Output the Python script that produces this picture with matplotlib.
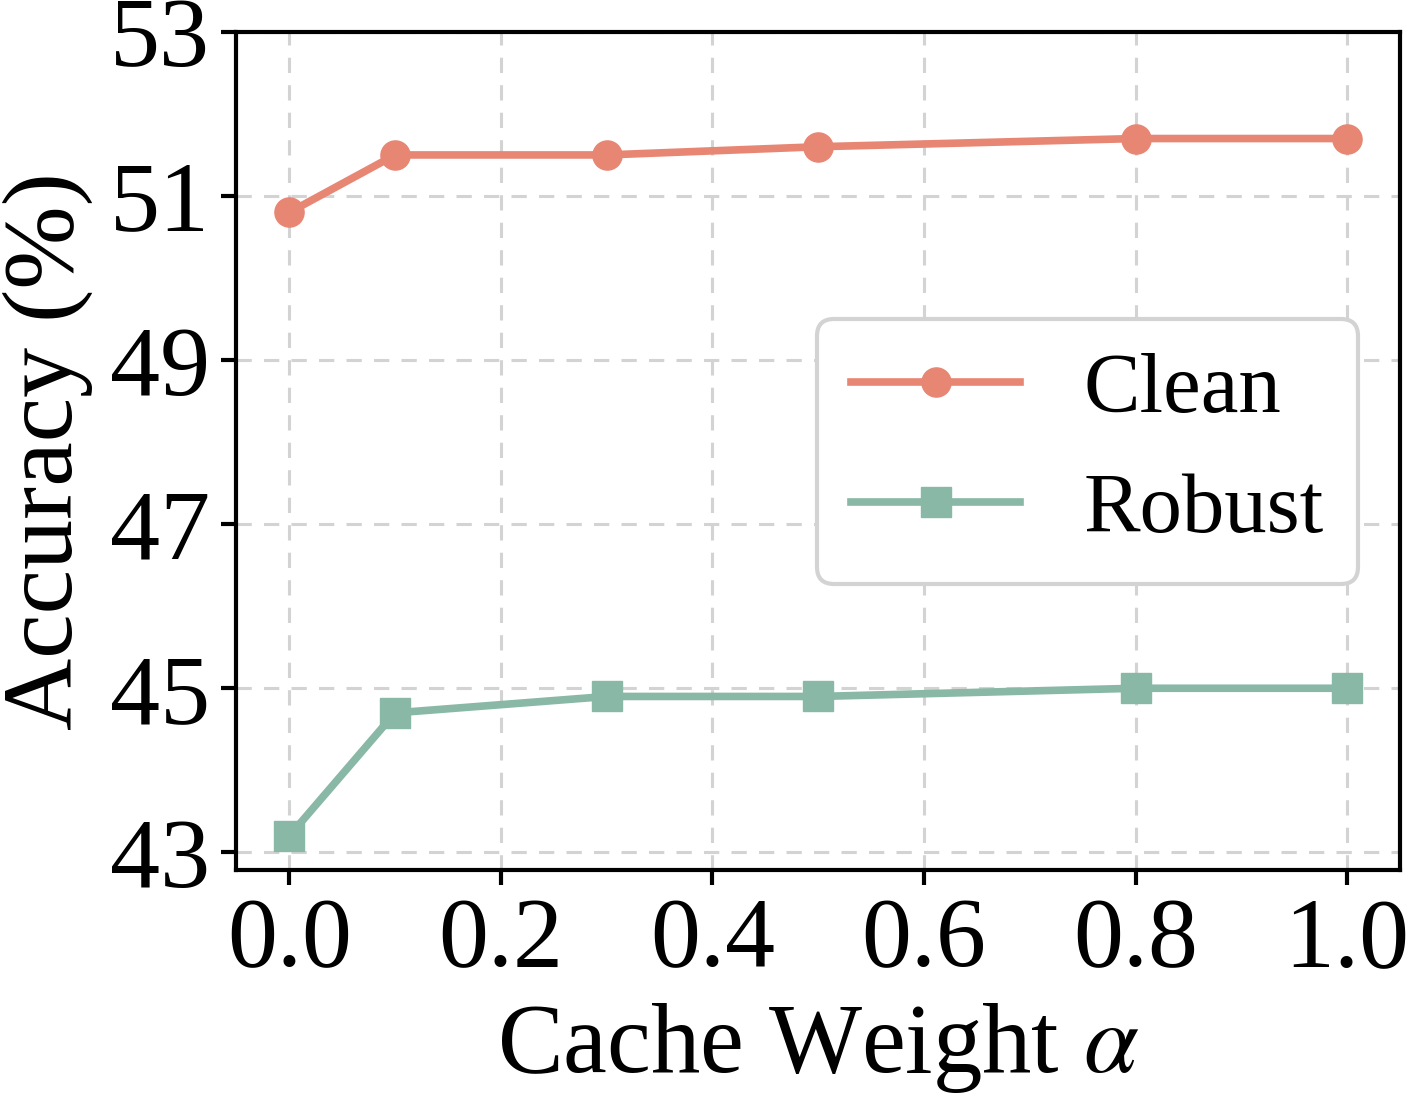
import matplotlib
matplotlib.use('Agg')
import matplotlib.pyplot as plt

plt.rcParams['font.family'] = 'Liberation Serif'
plt.rcParams['mathtext.fontset'] = 'stix'

alpha = [0.0, 0.1, 0.3, 0.5, 0.8, 1.0]
clean = [50.8, 51.5, 51.5, 51.6, 51.7, 51.7]
robust = [43.2, 44.7, 44.9, 44.9, 45.0, 45.0]
yticks = [43, 45, 47, 49, 51, 53]
xticks = [0.0, 0.2, 0.4, 0.6, 0.8, 1.0]

fig = plt.figure(figsize=(14.07, 10.99), dpi=100)
ax = fig.add_axes([0.168, 0.208, 0.827, 0.763])

ax.plot(alpha, clean, color='#E88674', marker='o', markersize=21, linewidth=5.5, label='Clean')
ax.plot(alpha, robust, color='#89B8A6', marker='s', markersize=21, linewidth=5.5, label='Robust')

ax.set_xlim(-0.05, 1.05)
ax.set_ylim(42.78, 53)
ax.set_xticks(xticks)
ax.set_xticklabels(['%.1f' % v for v in xticks])
ax.set_yticks(yticks)
ax.tick_params(labelsize=72, width=3, length=11, pad=8)
ax.grid(True, linestyle='--', color='#d3d3d3', linewidth=2.2, dashes=(5, 4))
for s in ax.spines.values():
    s.set_linewidth(3)

ax.set_xlabel(r'Cache Weight $\alpha$', fontsize=71, labelpad=10)
ax.set_ylabel('Accuracy (%)', fontsize=72, labelpad=12)

leg = ax.legend(loc='center right', bbox_to_anchor=(0.964, 0.5), fontsize=61,
                handlelength=2.0, handletextpad=0.75, borderpad=0.4,
                labelspacing=0.5, borderaxespad=0, framealpha=1, fancybox=True)
leg.get_frame().set_edgecolor('#d3d3d3')
leg.get_frame().set_linewidth(3)

fig.savefig('out.png', dpi=100)
